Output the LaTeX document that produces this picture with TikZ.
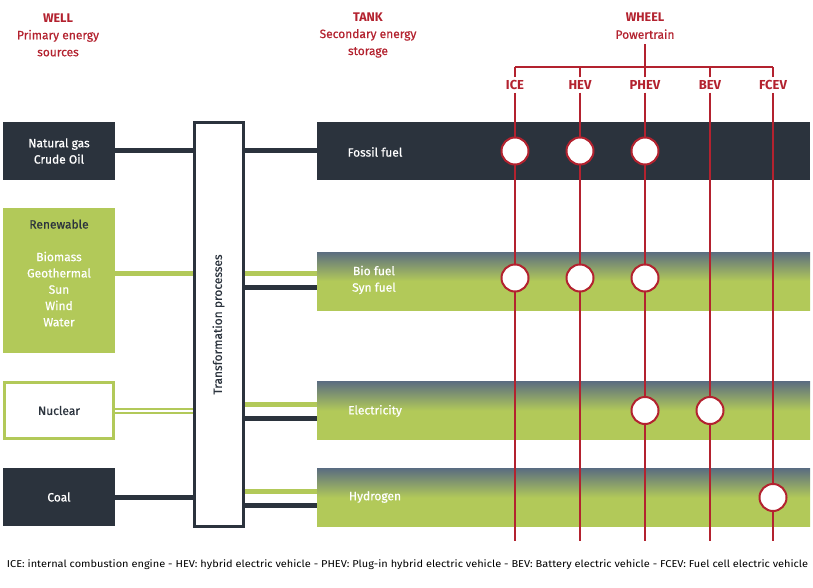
\documentclass[tikz,border=0pt]{standalone}
\usepackage{fontspec}
\setmainfont{Fira Sans}[UprightFeatures={FakeBold=0.6}]
\newfontfamily\notefont{Fira Sans}
\usetikzlibrary{calc}
\definecolor{darkbox}{HTML}{2B333D}
\definecolor{leaf}{HTML}{B2C959}
\definecolor{slate}{HTML}{5B6D80}
\definecolor{wheelred}{HTML}{B3222F}

\begin{document}
\begin{tikzpicture}[x=1pt,y=-1pt]
  \tikzstyle{head}=[text=wheelred,align=center,inner sep=0pt,font=\fontsize{12}{17}\selectfont]
  \tikzstyle{source}=[minimum width=112pt,inner sep=0pt,align=center,font=\fontsize{12}{16.3}\selectfont]
  \tikzstyle{tank}=[minimum width=493pt,minimum height=58pt,inner sep=0pt]
  \tikzstyle{fuel}=[text=white,align=center,inner sep=0pt,font=\fontsize{12}{16.5}\selectfont]
  \tikzstyle{greentank}=[tank,top color=slate,bottom color=leaf,middle color=leaf]
  \tikzstyle{darkline}=[draw=darkbox,line width=5pt]
  \tikzstyle{greenline}=[draw=leaf,line width=5pt]
  \tikzstyle{redline}=[draw=wheelred,line width=2pt]
  \tikzstyle{train}=[text=wheelred,inner sep=0pt,font=\fontsize{13}{14}\selectfont\bfseries]
  \tikzstyle{stop}=[circle,draw=wheelred,fill=white,line width=2pt,minimum size=27pt,inner sep=0pt]
  \useasboundingbox (0,0) rectangle (813,588);

  % headers
  \node[head] (well) at (58,35) {{\fontsize{12.5}{17}\selectfont\bfseries WELL}\\Primary energy\\sources};
  \node[head] (tankhead) at (368,35) {{\fontsize{12.5}{17}\selectfont\bfseries TANK}\\Secondary energy\\storage};
  \node[head] (wheel) at (645,26) {{\fontsize{12.5}{17}\selectfont\bfseries WHEEL}\\Powertrain};

  % primary sources
  \node[source,fill=darkbox,text=white,minimum height=58pt] (natgas) at (59,151) {Natural gas\\Crude Oil};
  \node[source,fill=leaf,minimum height=145pt] (renew) at (59,280.5) {};
  \node[source,text=white] (renewtxt) at (59,273) {{\color{darkbox}Renewable}\\[16.3pt]Biomass\\Geothermal\\Sun\\Wind\\Water};
  \node[source,draw=leaf,line width=3pt,text=darkbox,minimum width=109pt,minimum height=56pt] (nuclear) at (59,410.5) {Nuclear};
  \node[source,fill=darkbox,text=white,minimum height=58pt] (coal) at (59,497) {Coal};

  % transformation
  \node[draw=darkbox,line width=3pt,fill=white,minimum width=49pt,minimum height=403pt] (trans) at (218.5,324.5) {};
  \node[rotate=90,text=darkbox,font=\fontsize{12}{13}\selectfont] at (trans.center) {Transformation processes};

  % tanks
  \node[tank,fill=darkbox] (fossil) at (563.5,151) {};
  \node[greentank] (bio) at (563.5,281) {};
  \node[greentank] (elec) at (563.5,410.5) {};
  \node[greentank] (hydro) at (563.5,497.5) {};
  \node[fuel] at (375,152) {Fossil fuel};
  \node[fuel] at (374,280) {Bio fuel\\Syn fuel};
  \node[fuel] at (375,411) {Electricity};
  \node[fuel] at (375,497) {Hydrogen};

  % well to tank
  \draw[darkline] (natgas.east) -- (trans.west |- natgas.east);
  \draw[greenline] (renew.east |- renewtxt) -- (trans.west |- renewtxt);
  \draw[draw=leaf,line width=2pt,double=white,double distance=2pt] (nuclear.east) -- (trans.west |- nuclear.east);
  \draw[darkline] (coal.east) -- (trans.west |- coal.east);
  \draw[darkline] (trans.east |- fossil.west) -- (fossil.west);
  \draw[greenline] ($(bio.west)+(0,-8)$) -- ($(trans.east |- bio.west)+(0,-8)$);
  \draw[darkline] ($(bio.west)+(0,6)$) -- ($(trans.east |- bio.west)+(0,6)$);
  \draw[greenline] ($(elec.west)+(0,-6)$) -- ($(trans.east |- elec.west)+(0,-6)$);
  \draw[darkline] ($(elec.west)+(0,7.5)$) -- ($(trans.east |- elec.west)+(0,7.5)$);
  \draw[greenline] ($(hydro.west)+(0,-6)$) -- ($(trans.east |- hydro.west)+(0,-6)$);
  \draw[darkline] ($(hydro.west)+(0,7.5)$) -- ($(trans.east |- hydro.west)+(0,7.5)$);

  % powertrains
  \node[train] (ice) at (515,85) {ICE};
  \node[train] (hev) at (580,85) {HEV};
  \node[train] (phev) at (645,85) {PHEV};
  \node[train] (bev) at (710,85) {BEV};
  \node[train] (fcev) at (773,85) {FCEV};
  \coordinate (hub) at (645,67);
  \coordinate (floor) at (0,541);
  \draw[redline] (wheel.south) ++(0,5) -- (hub);
  \draw[redline] (ice.north |- hub) -- (fcev.north |- hub);
  \foreach \v in {ice,hev,phev,bev,fcev} {
    \draw[redline] ($(\v.north)+(0,-3)$) -- (\v.north |- hub);
    \draw[redline] ($(\v.south)+(0,3)$) -- (\v.south |- floor);
  }

  \node[stop] at (ice |- fossil) {};
  \node[stop] at (hev |- fossil) {};
  \node[stop] at (phev |- fossil) {};
  \node[stop] at ($(ice |- bio)+(0,-3)$) {};
  \node[stop] at ($(hev |- bio)+(0,-3)$) {};
  \node[stop] at ($(phev |- bio)+(0,-3)$) {};
  \node[stop] at (phev |- elec) {};
  \node[stop] at (bev |- elec) {};
  \node[stop] at (fcev |- hydro) {};

  % footnote
  \node[text=black,inner sep=0pt,xscale=1.1,transform shape,font=\notefont\fontsize{10}{11}\selectfont] (note) at (407.5,565) {ICE: internal combustion engine - HEV: hybrid electric vehicle - PHEV: Plug-in hybrid electric vehicle - BEV: Battery electric vehicle - FCEV: Fuel cell electric vehicle};
\end{tikzpicture}
\end{document}
